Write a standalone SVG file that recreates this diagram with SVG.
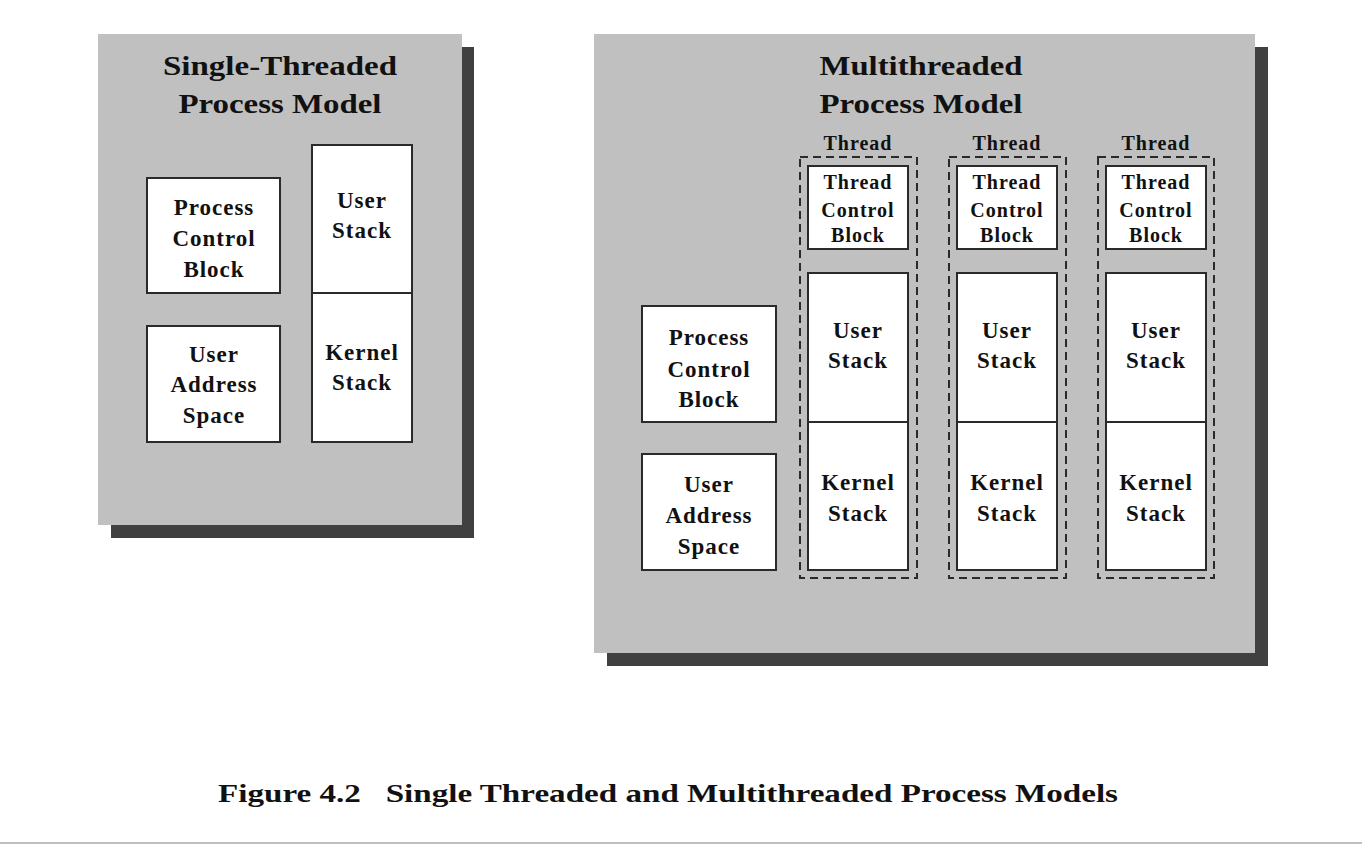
<svg xmlns="http://www.w3.org/2000/svg" width="1362" height="844" viewBox="0 0 1362 844">
<style>
.panel{fill:#c0c0c0}
.shadow{fill:#404040}
.box{fill:#ffffff;stroke:#2a2a2a;stroke-width:2}
.dash{fill:none;stroke:#2a2a2a;stroke-width:2;stroke-dasharray:8 5}
text{font-family:"Liberation Serif","Times New Roman",serif;font-weight:bold;fill:#111;text-anchor:middle}
.title{font-size:28px}
.lbl{font-size:23px;letter-spacing:1px}
.sm{font-size:20px;letter-spacing:1px}
.cap{font-size:26px;text-anchor:start}
</style>
<rect width="1362" height="844" fill="#ffffff"/>
<g id="single-panel">
<rect class="shadow" x="111" y="47" width="363" height="491"/>
<rect class="panel" x="98" y="34" width="364" height="491"/>
<text class="title" x="280" y="75" textLength="234" lengthAdjust="spacingAndGlyphs">Single-Threaded</text>
<text class="title" x="280" y="113" textLength="203" lengthAdjust="spacingAndGlyphs">Process Model</text>
</g>
<g id="s-pcb">
<rect class="box" x="147" y="178" width="133" height="115"/>
<text class="lbl" x="214" y="215">Process</text>
<text class="lbl" x="214" y="246">Control</text>
<text class="lbl" x="214" y="277">Block</text>
</g>
<g id="s-uas">
<rect class="box" x="147" y="326" width="133" height="116"/>
<text class="lbl" x="214" y="362">User</text>
<text class="lbl" x="214" y="392">Address</text>
<text class="lbl" x="214" y="423">Space</text>
</g>
<g id="s-ustack">
<rect class="box" x="312" y="145" width="100" height="148"/>
<text class="lbl" x="362" y="208">User</text>
<text class="lbl" x="362" y="238">Stack</text>
</g>
<g id="s-kstack">
<rect class="box" x="312" y="293" width="100" height="149"/>
<text class="lbl" x="362" y="360">Kernel</text>
<text class="lbl" x="362" y="390">Stack</text>
</g>
<g id="multi-panel">
<rect class="shadow" x="607" y="47" width="661" height="619"/>
<rect class="panel" x="594" y="34" width="661" height="619"/>
<text class="title" x="921" y="75" textLength="203" lengthAdjust="spacingAndGlyphs">Multithreaded</text>
<text class="title" x="921" y="113" textLength="203" lengthAdjust="spacingAndGlyphs">Process Model</text>
</g>
<g id="m-pcb">
<rect class="box" x="642" y="306" width="134" height="116"/>
<text class="lbl" x="709" y="345">Process</text>
<text class="lbl" x="709" y="377">Control</text>
<text class="lbl" x="709" y="407">Block</text>
</g>
<g id="m-uas">
<rect class="box" x="642" y="454" width="134" height="116"/>
<text class="lbl" x="709" y="492">User</text>
<text class="lbl" x="709" y="523">Address</text>
<text class="lbl" x="709" y="554">Space</text>
</g>
<g id="thread-1">
<text class="sm" x="858" y="150">Thread</text>
<rect class="dash" x="800" y="157" width="117" height="421"/>
<rect class="box" x="808" y="166" width="100" height="83"/>
<text class="sm" x="858" y="189">Thread</text>
<text class="sm" x="858" y="217">Control</text>
<text class="sm" x="858" y="242">Block</text>
<rect class="box" x="808" y="273" width="100" height="149"/>
<text class="lbl" x="858" y="338">User</text>
<text class="lbl" x="858" y="368">Stack</text>
<rect class="box" x="808" y="422" width="100" height="148"/>
<text class="lbl" x="858" y="490">Kernel</text>
<text class="lbl" x="858" y="521">Stack</text>
</g>
<g id="thread-2">
<text class="sm" x="1007" y="150">Thread</text>
<rect class="dash" x="949" y="157" width="117" height="421"/>
<rect class="box" x="957" y="166" width="100" height="83"/>
<text class="sm" x="1007" y="189">Thread</text>
<text class="sm" x="1007" y="217">Control</text>
<text class="sm" x="1007" y="242">Block</text>
<rect class="box" x="957" y="273" width="100" height="149"/>
<text class="lbl" x="1007" y="338">User</text>
<text class="lbl" x="1007" y="368">Stack</text>
<rect class="box" x="957" y="422" width="100" height="148"/>
<text class="lbl" x="1007" y="490">Kernel</text>
<text class="lbl" x="1007" y="521">Stack</text>
</g>
<g id="thread-3">
<text class="sm" x="1156" y="150">Thread</text>
<rect class="dash" x="1098" y="157" width="116" height="421"/>
<rect class="box" x="1106" y="166" width="100" height="83"/>
<text class="sm" x="1156" y="189">Thread</text>
<text class="sm" x="1156" y="217">Control</text>
<text class="sm" x="1156" y="242">Block</text>
<rect class="box" x="1106" y="273" width="100" height="149"/>
<text class="lbl" x="1156" y="338">User</text>
<text class="lbl" x="1156" y="368">Stack</text>
<rect class="box" x="1106" y="422" width="100" height="148"/>
<text class="lbl" x="1156" y="490">Kernel</text>
<text class="lbl" x="1156" y="521">Stack</text>
</g>
<g id="connectors"></g>
<g id="caption">
<text class="cap" x="218" y="802" textLength="900" lengthAdjust="spacingAndGlyphs" xml:space="preserve">Figure 4.2   Single Threaded and Multithreaded Process Models</text>
</g>
<rect x="0" y="842" width="1362" height="2" fill="#c0c0c0"/>
</svg>
